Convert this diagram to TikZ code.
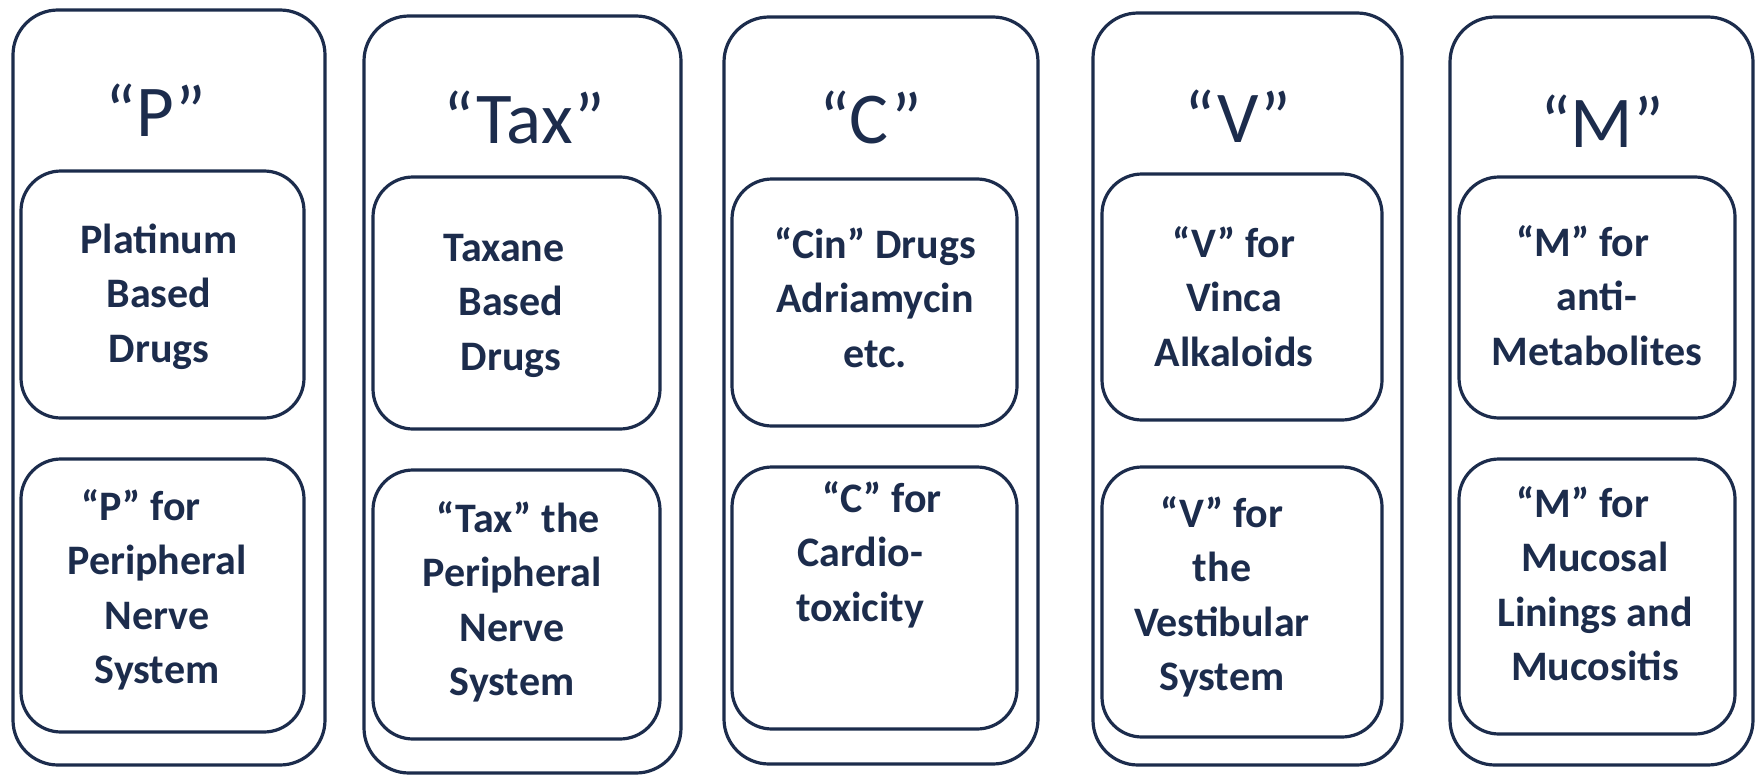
\documentclass[tikz,border=0pt]{standalone}
\usepackage{fontspec}
\setmainfont{Carlito}
\definecolor{navy}{HTML}{1C2C4C}
\tikzset{
  outerbox/.style={draw=navy, line width=3.2pt, rounded corners=45pt, inner sep=0pt},
  innerbox/.style={draw=navy, line width=3.2pt, rounded corners=40pt, inner sep=0pt},
  headtext/.style={font=\fontsize{73}{88}\selectfont, text=navy, inner sep=0pt, anchor=base},
  bodytext/.style={font=\bfseries\fontsize{42}{54.5}\selectfont, text=navy, align=center, inner sep=0pt, anchor=base}
}
\begin{document}
\begin{tikzpicture}[x=1pt,y=-1pt]
\useasboundingbox (0,0) rectangle (1756,776);
% outer columns
\node[outerbox, minimum width=312pt, minimum height=755pt] (o1) at (169,387.5) {};
\node[outerbox, minimum width=317pt, minimum height=757pt] (o2) at (522.5,394.5) {};
\node[outerbox, minimum width=314pt, minimum height=747pt] (o3) at (881,390.5) {};
\node[outerbox, minimum width=309pt, minimum height=752pt] (o4) at (1247.5,389) {};
\node[outerbox, minimum width=303pt, minimum height=748pt] (o5) at (1601.5,391) {};
% inner top boxes
\node[innerbox, minimum width=283pt, minimum height=247pt] (a1) at (162.5,294.5) {};
\node[innerbox, minimum width=287pt, minimum height=252pt] (a2) at (516.5,303) {};
\node[innerbox, minimum width=285pt, minimum height=247pt] (a3) at (874.5,302.5) {};
\node[innerbox, minimum width=280pt, minimum height=246pt] (a4) at (1242,297) {};
\node[innerbox, minimum width=276pt, minimum height=241pt] (a5) at (1597,297.5) {};
% inner bottom boxes
\node[innerbox, minimum width=283pt, minimum height=273pt] (b1) at (162.5,595.5) {};
\node[innerbox, minimum width=287pt, minimum height=269pt] (b2) at (516.5,604.5) {};
\node[innerbox, minimum width=285pt, minimum height=262pt] (b3) at (874.5,598) {};
\node[innerbox, minimum width=280pt, minimum height=270pt] (b4) at (1242,602) {};
\node[innerbox, minimum width=276pt, minimum height=275pt] (b5) at (1597,596.5) {};
% titles
\node[headtext] (h1) at (156,136) {“P”};
\node[headtext] (h2) at (524,143) {“Tax”};
\node[headtext] (h3) at (871,143) {“C”};
\node[headtext] (h4) at (1238,142) {“V”};
\node[headtext] (h5) at (1602,147) {“M”};
% texts in top boxes (anchor = baseline of last line)
\node[bodytext] (ta1) at (159,362) {Platinum\\Based\\Drugs};
\node[bodytext] (ta2) at (511,370) {Taxane\hspace*{14pt}\\Based\\Drugs};
\node[bodytext] (ta3) at (875,367) {“Cin” Drugs\\Adriamycin\\etc.};
\node[bodytext] (ta4) at (1234,366) {“V” for\\Vinca\\Alkaloids};
\node[bodytext] (ta5) at (1597,365) {“M” for\hspace*{28pt}\\anti-\\Metabolites};
% texts in bottom boxes
\node[bodytext] (tb1) at (157,683.5) {“P” for\hspace*{32pt}\\Peripheral\\Nerve\\System};
\node[bodytext] (tb2) at (512,695.5) {\hspace*{12pt}“Tax” the\\Peripheral\\Nerve\\System};
\node[bodytext] (tb3) at (860,621) {\hspace*{44pt}“C” for\\Cardio-\\toxicity};
\node[bodytext] (tb4) at (1222,690.5) {“V” for\\the\\Vestibular\\System};
\node[bodytext] (tb5) at (1595,680.5) {“M” for\hspace*{24pt}\\Mucosal\\Linings and\\Mucositis};
\end{tikzpicture}
\end{document}
